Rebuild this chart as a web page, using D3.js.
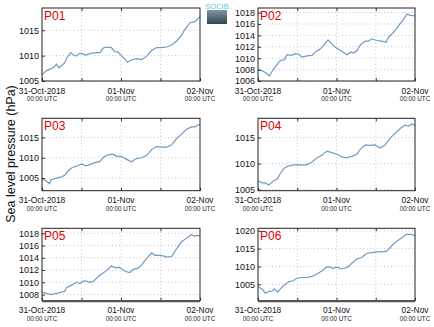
<!DOCTYPE html>
<html><head><meta charset="utf-8">
<script src="https://cdn.jsdelivr.net/npm/d3@7"></script>
<style>body{margin:0;background:#fff}svg{display:block}</style>
</head><body>
<svg id="c" width="434" height="327"></svg>
<script>
// ---- data (hours since 31-Oct-2018 00:00 UTC, pressure in hPa) ----
const panelNames = ["P01","P02","P03","P04","P05","P06"];
const xTickLabels = ["31-Oct-2018","01-Nov","02-Nov"];
const xTickHours = [0,24,48];
const xSubLabel = "00:00 UTC";
const yLabel = "Sea level pressure (hPa)";

const h01 = [0,1.3,2.3,3.3,4.4,5.2,5.9,6.9,7.4,8.7,9.4,10.3,11.5,12.5,13.3,14.5,16.5,17.6,18.6,19.6,21.1,22.1,23.1,24.7,26,27.2,28.7,30.3,31.8,33.3,34.8,36.3,37.9,39.4,40.9,42.4,43.5,45,46.5,48];
const p01 = [1006.2,1007,1007.3,1007.6,1008.3,1007.6,1008,1008.6,1009.4,1010.6,1010.2,1009.9,1010.5,1010.3,1010.1,1010.4,1010.6,1010.6,1011.5,1011.7,1011.6,1010.8,1010.7,1009.6,1008.7,1009.2,1009.4,1009.2,1009.9,1011,1011.6,1011.6,1011.7,1012.1,1012.9,1014,1015.3,1016.5,1016.7,1017.7];

const h02 = [0,1.2,2.2,3.5,4.3,5.6,6.8,8,8.9,10.1,11.4,12.4,13.4,15,16.5,17.5,19,20,21.4,22.1,23.6,25.1,27.2,28.4,29.4,30.2,31.4,32.8,33.8,34.8,36.3,37.8,39.2,39.9,41.4,42.4,43.4,44.5,45.5,46.7,48];
const p02 = [1007.9,1007.8,1007.5,1006.9,1007.7,1008.7,1009.6,1009.7,1010.6,1010.5,1010.8,1010.7,1010.2,1010.4,1010.5,1011.1,1011.6,1012.2,1013.2,1012.8,1011.9,1011.4,1010.6,1011.1,1010.9,1011.3,1012.4,1013,1013,1013.4,1013.1,1013,1012.8,1013.7,1014.5,1015.2,1016,1016.8,1017.7,1017.5,1017.4];

const h03 = [0,1.3,2.3,2.8,4.4,5.9,6.9,7.9,9.2,10.5,12,13.3,14.5,16,17.6,18.8,20.1,21.4,22.6,24.2,25.7,27.2,28.7,30.3,31.8,33.3,34.8,36,37.9,39.4,40.9,42.4,43.9,45.4,46.5,48];
const p03 = [1004.9,1004.3,1003.6,1004.6,1005,1005.3,1005.7,1006.8,1007.6,1007.9,1008.5,1008,1008.3,1008.8,1009.1,1010.2,1010.7,1010.9,1010.4,1010.3,1009.6,1009,1009.8,1010,1010.6,1012,1012.8,1012.6,1012.6,1013.2,1014.7,1015.8,1017,1017.6,1017.6,1018.3];

const h04 = [0,1.2,2.2,3.3,4.8,6,6.8,8,9.1,10.4,11.9,13.4,15,16.5,18,19.5,21.1,22.6,24.1,25.6,27.2,28.7,30.2,31.2,32.8,34.3,35.8,37.3,38.8,40.4,41.9,43.4,44.9,46,47,48];
const p04 = [1006.7,1006.3,1006.3,1005.9,1006.7,1007.1,1008.1,1009.1,1009.5,1009.7,1009.8,1009.7,1009.8,1010.3,1011.1,1011.6,1012.4,1012.1,1011.8,1011.3,1011.1,1011.4,1011.8,1012.7,1013.6,1013.5,1013.6,1013,1013.5,1014.9,1015.8,1016.7,1017.4,1017.2,1017.6,1017.4];

const h05 = [0,1.3,2.8,4.4,5.9,6.9,7.4,8.9,10.5,11.5,12.5,13.5,14.3,15.5,17,18.6,19.6,21.1,22.1,23.6,25.2,26.7,27.7,29.2,30.2,31.8,33.3,34.3,35.8,36.8,37.9,39.4,40.9,42.4,43.9,45.4,46.3,47,48];
const p05 = [1008.4,1008.2,1008,1008.2,1008.4,1008.5,1009.1,1009.5,1010,1009.8,1010.2,1010.2,1010,1010.1,1010.9,1011.5,1011.9,1012.7,1012.4,1012.4,1011.8,1011.6,1012.1,1012.3,1012.8,1013.9,1014.8,1014.4,1014.4,1014.3,1014.1,1014.2,1015.5,1016.6,1017.2,1017.8,1017.5,1017.6,1017.6];

const h06 = [0,1.2,2.2,3.3,4.3,5,6,6.8,8,9.4,10.7,11.9,13.4,15,16.5,18,19.5,20.9,22.1,22.9,24.1,25.6,27.2,28.7,30.2,31.7,33.3,34.8,36.3,37.8,39.4,40.9,42.4,43.9,45.4,47,48];
const p06 = [1004.3,1003.7,1002.5,1003,1003.1,1003.7,1002.8,1003.7,1004.8,1005.7,1006,1006.7,1006.9,1006.9,1007.2,1007.9,1008.7,1009.8,1009.8,1009.5,1009.8,1009.3,1009.7,1010.9,1012.1,1012.5,1013.7,1013.9,1014.1,1014.1,1014.3,1015.8,1017.1,1018,1019,1019,1018.6];

const yTicks01 = [1005,1010,1015];
const yTicks02 = [1006,1008,1010,1012,1014,1016,1018];
const yTicks03 = [1005,1010,1015];
const yTicks04 = [1005,1010,1015];
const yTicks05 = [1008,1010,1012,1014,1016,1018];
const yTicks06 = [1005,1010,1015,1020];

const yRange01 = [1005,1019.4];
const yRange02 = [1006,1018.8];
const yRange03 = [1001.9,1019.7];
const yRange04 = [1004.8,1018.7];
const yRange05 = [1007,1018.8];
const yRange06 = [1000.4,1020.7];

const hours = [h01,h02,h03,h04,h05,h06];
const values = [p01,p02,p03,p04,p05,p06];
const yTicks = [yTicks01,yTicks02,yTicks03,yTicks04,yTicks05,yTicks06];
const yRanges = [yRange01,yRange02,yRange03,yRange04,yRange05,yRange06];

// ---- layout ----
const colX = [[42,200],[258,415]];
const rowY = [[8,81],[118.3,190.7],[228.3,300.7]];
const FONT = "'Liberation Sans', Arial, Helvetica, sans-serif";
const lineColor = "#6f9bc6";

const svg = d3.select("#c");

panelNames.forEach((name,i)=>{
  const col = i%2, row = Math.floor(i/2);
  const [x0,x1] = colX[col], [y0,y1] = rowY[row];
  const x = d3.scaleLinear().domain([0,48]).range([x0,x1]);
  const y = d3.scaleLinear().domain(yRanges[i]).range([y1,y0]);
  const g = svg.append("g");

  // grid
  g.selectAll(".gx").data([12,24,36]).join("line")
    .attr("x1",d=>x(d)).attr("x2",d=>x(d)).attr("y1",y0).attr("y2",y1)
    .attr("stroke","#b8b8b8").attr("stroke-width",0.8).attr("stroke-dasharray","1,2.5");
  g.selectAll(".gy").data(yTicks[i]).join("line")
    .attr("x1",x0).attr("x2",x1).attr("y1",d=>y(d)).attr("y2",d=>y(d))
    .attr("stroke","#b8b8b8").attr("stroke-width",0.8).attr("stroke-dasharray","1,2.5");

  // line
  const pts = hours[i].map((h,k)=>[h,values[i][k]]);
  g.append("path").datum(pts)
    .attr("fill","none").attr("stroke",lineColor).attr("stroke-width",1.2)
    .attr("d", d3.line().x(d=>x(d[0])).y(d=>y(d[1])));

  // y axis
  const ya = g.append("g").attr("transform",`translate(${x0},0)`)
    .call(d3.axisLeft(y).tickValues(yTicks[i]).tickFormat(d3.format("d")).tickSize(-3).tickPadding(3));
  ya.select(".domain").remove();
  ya.selectAll("line").attr("stroke","#333");
  ya.selectAll("text").attr("font-family",FONT).attr("font-size",9).attr("fill","#111");

  // x axis ticks (bottom and top, inward)
  const xa = g.append("g").attr("transform",`translate(0,${y1})`)
    .call(d3.axisBottom(x).tickValues([0,12,24,36,48]).tickFormat("").tickSize(-3));
  xa.select(".domain").remove();
  xa.selectAll("line").attr("stroke","#333");
  const xt = g.append("g").attr("transform",`translate(0,${y0})`)
    .call(d3.axisTop(x).tickValues([12,24,36]).tickFormat("").tickSize(-3));
  xt.select(".domain").remove();
  xt.selectAll("line").attr("stroke","#333");

  g.selectAll(".xl").data(xTickHours).join("text")
    .attr("x",d=>x(d)).attr("y",y1+12.6).attr("text-anchor","middle")
    .attr("font-family",FONT).attr("font-size",8.4).attr("fill","#111")
    .text((d,k)=>xTickLabels[k]);
  g.selectAll(".xs").data(xTickHours).join("text")
    .attr("x",d=>x(d)).attr("y",y1+19.8).attr("text-anchor","middle")
    .attr("font-family",FONT).attr("font-size",6.3).attr("fill","#222")
    .text(xSubLabel);

  // frame
  g.append("rect").attr("x",x0).attr("y",y0).attr("width",x1-x0).attr("height",y1-y0)
    .attr("fill","none").attr("stroke","#222").attr("stroke-width",1);
  if(row===2){
    g.append("line").attr("x1",x0).attr("x2",x1).attr("y1",y1+0.5).attr("y2",y1+0.5)
      .attr("stroke","#555").attr("stroke-width",2.2);
  }

  // title
  g.append("text").attr("x",x0+2).attr("y",y0+12)
    .attr("font-family",FONT).attr("font-size",12).attr("fill","#e00000").text(name);
});

// y label
svg.append("text").attr("transform","translate(15,154) rotate(-90)")
  .attr("text-anchor","middle").attr("font-family",FONT).attr("font-size",12.5)
  .attr("fill","#111").text(yLabel);

// logo
const defs = svg.append("defs");
const gr = defs.append("linearGradient").attr("id","lg").attr("x1",0).attr("y1",0).attr("x2",0).attr("y2",1);
gr.append("stop").attr("offset","0%").attr("stop-color","#7f98a6");
gr.append("stop").attr("offset","100%").attr("stop-color","#2f4450");
svg.append("rect").attr("x",207).attr("y",10).attr("width",20).attr("height",14).attr("fill","url(#lg)");
svg.append("text").attr("x",217).attr("y",9).attr("text-anchor","middle")
  .attr("font-family",FONT).attr("font-size",7.5).attr("fill","#56c6dc").text("SOCIB");
</script>
</body></html>
